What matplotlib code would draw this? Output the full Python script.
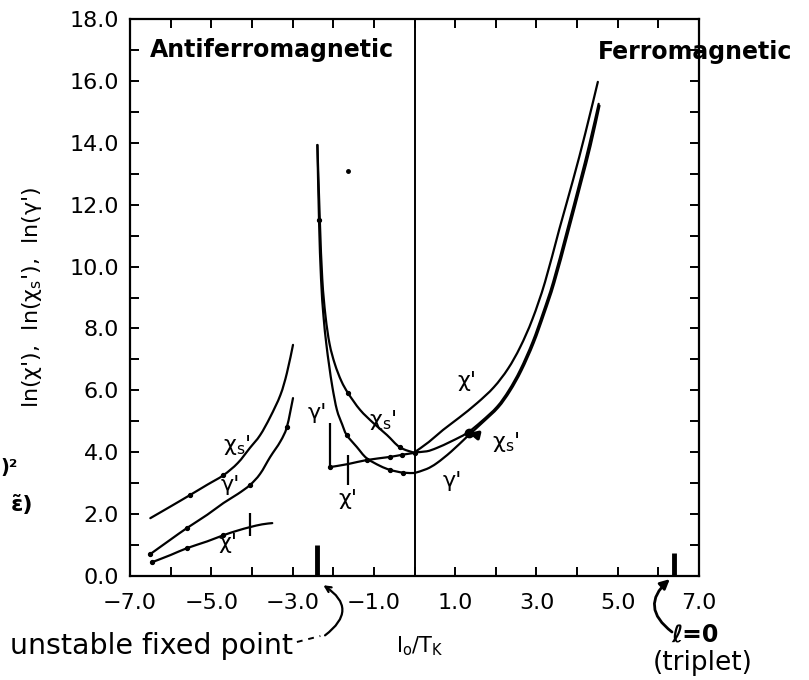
import matplotlib
matplotlib.use("Agg")
import matplotlib.pyplot as plt
from matplotlib.path import Path
from matplotlib.patches import PathPatch
from matplotlib.ticker import FixedLocator, NullFormatter, FuncFormatter

plt.rcParams["font.family"] = ["DejaVu Sans"]

# ---- antiferromagnetic side, low branch (I0/TK below the fixed point) ----
chis_af_x = [-6.5, -6.0, -5.52, -5.1, -4.7, -4.35, -4.05, -3.8, -3.55, -3.3, -3.14, -2.99]
chis_af_y = [1.87, 2.25, 2.62, 2.95, 3.26, 3.65, 4.14, 4.55, 5.14, 5.85, 6.56, 7.47]

gam_af_x = [-6.5, -6.0, -5.6, -5.1, -4.7, -4.35, -4.05, -3.8, -3.55, -3.3, -3.14, -2.99]
gam_af_y = [0.71, 1.18, 1.55, 1.98, 2.36, 2.65, 2.94, 3.3, 3.85, 4.35, 4.82, 5.75]

chi_af_x = [-6.45, -6.0, -5.6, -5.1, -4.7, -4.35, -4.05, -3.75, -3.5]
chi_af_y = [0.45, 0.68, 0.90, 1.12, 1.32, 1.47, 1.58, 1.67, 1.71]

# ---- antiferromagnetic side, branch between the fixed point and 0 ----
chis_mid_x = [-2.39, -2.33, -2.27, -2.19, -2.09, -1.96, -1.8, -1.63, -1.34, -1.01, -0.68, -0.36, 0.0]
chis_mid_y = [13.93, 11.5, 9.6, 8.4, 7.5, 6.85, 6.3, 5.9, 5.37, 4.94, 4.56, 4.16, 3.98]

gam_mid_x = [-2.39, -2.35, -2.3, -2.24, -2.17, -2.1, -2.02, -1.91, -1.78, -1.67, -1.42,
             -1.18, -0.85, -0.6, -0.28, 0.0]
gam_mid_y = [13.93, 11.5, 9.6, 8.4, 7.5, 6.8, 6.1, 5.37, 4.9, 4.56, 4.17,
             3.81, 3.56, 3.43, 3.34, 3.33]

chi_mid_x = [-2.08, -1.63, -1.17, -0.6, -0.3, 0.0]
chi_mid_y = [3.52, 3.62, 3.75, 3.85, 3.92, 3.98]

# ---- ferromagnetic side ----
chi_f_x = [0.0, 0.35, 0.7, 1.1, 1.54, 1.95, 2.3, 2.6, 2.9, 3.21, 3.56, 3.9, 4.2, 4.51]
chi_f_y = [4.0, 4.33, 4.72, 5.12, 5.59, 6.1, 6.7, 7.4, 8.3, 9.5, 11.2, 12.8, 14.3, 15.97]

chis_f_x = [0.0, 0.3, 0.55, 0.9, 1.29, 1.65, 2.03, 2.32, 2.6, 2.9, 3.16, 3.41, 3.75,
            4.07, 4.3, 4.53]
chis_f_y = [4.0, 4.03, 4.14, 4.35, 4.62, 5.0, 5.47, 6.0, 6.66, 7.55, 8.5, 9.5, 11.15,
            12.75, 13.95, 15.26]

gam_f_x = [0.0, 0.3, 0.55, 0.9, 1.29, 1.68, 2.06, 2.35, 2.63, 2.93, 3.19, 3.44, 3.78,
           4.1, 4.33, 4.55]
gam_f_y = [3.33, 3.46, 3.65, 4.02, 4.5, 4.97, 5.45, 5.98, 6.64, 7.53, 8.48, 9.48, 11.12,
           12.72, 13.9, 15.2]

# error bars: x position, lower and upper value
err_x = [-4.05, -2.08, -1.63]
err_lo = [1.29, 3.52, 2.94]
err_hi = [2.04, 4.94, 3.91]

# marked special couplings
fixed_point_x = -2.4
triplet_x = 6.38


def smooth_curve(ax, xs, ys, lw=1.6):
    """Draw a smooth (Catmull-Rom as cubic Bezier) curve through the points."""
    pts = list(zip(xs, ys))
    verts = [pts[0]]
    codes = [Path.MOVETO]
    n = len(pts)
    for i in range(n - 1):
        p0 = pts[i - 1] if i > 0 else pts[i]
        p1 = pts[i]
        p2 = pts[i + 1]
        p3 = pts[i + 2] if i + 2 < n else pts[i + 1]
        c1 = (p1[0] + (p2[0] - p0[0]) / 6.0, p1[1] + (p2[1] - p0[1]) / 6.0)
        c2 = (p2[0] - (p3[0] - p1[0]) / 6.0, p2[1] - (p3[1] - p1[1]) / 6.0)
        verts += [c1, c2, p2]
        codes += [Path.CURVE4] * 3
    ax.add_patch(PathPatch(Path(verts, codes), fill=False, edgecolor="black",
                           lw=lw, capstyle="round", joinstyle="round"))


def dots(ax, xs, ys, idx, ms=2.8):
    ax.plot([xs[i] for i in idx], [ys[i] for i in idx], "o", color="black",
            markersize=ms, linestyle="none")


fig = plt.figure(figsize=(8.09, 6.80), dpi=100)
ax = fig.add_axes([0.1607, 0.1529, 0.7034, 0.8191])

for cx, cy in [(chis_af_x, chis_af_y), (gam_af_x, gam_af_y), (chi_af_x, chi_af_y),
               (chis_mid_x, chis_mid_y), (gam_mid_x, gam_mid_y), (chi_mid_x, chi_mid_y),
               (chi_f_x, chi_f_y), (chis_f_x, chis_f_y), (gam_f_x, gam_f_y)]:
    smooth_curve(ax, cx, cy)

dots(ax, chis_af_x, chis_af_y, [2, 4])
dots(ax, gam_af_x, gam_af_y, [0, 2, 6, 10])
dots(ax, chi_af_x, chi_af_y, [0, 2, 4])
dots(ax, chis_mid_x, chis_mid_y, [7, 11, 12])
dots(ax, gam_mid_x, gam_mid_y, [1, 9, 13, 14])
dots(ax, chi_mid_x, chi_mid_y, [0, 2, 3, 4])

ax.vlines(err_x, err_lo, err_hi, color="black", lw=1.6)
ax.axvline(0.0, color="black", lw=1.4)

# thick strokes marking the unstable fixed point and the l=0 limit
ax.vlines([fixed_point_x], 0, 1.0, color="black", lw=3.5)
ax.vlines([triplet_x], 0, 0.74, color="black", lw=3.5)

# stray dot on the divergence
ax.plot([-1.63], [13.1], "o", color="black", markersize=2.5)

# curve labels
lab = dict(fontsize=16, ha="center", va="center", color="black")
ax.text(-4.37, 4.23, "χ$_\\mathregular{s}$'", **lab)
ax.text(-4.54, 2.94, "γ'", **lab)
ax.text(-4.58, 1.07, "χ'", **lab)
ax.text(-2.4, 5.27, "γ'", **lab)
ax.text(-0.77, 5.04, "χ$_\\mathregular{s}$'", **lab)
ax.text(-1.63, 2.49, "χ'", **lab)
ax.text(1.29, 6.3, "χ'", **lab)
ax.text(0.93, 3.07, "γ'", **lab)
ax.annotate("χ$_\\mathregular{s}$'", xy=(1.33, 4.62), xytext=(2.25, 4.33),
            fontsize=16, ha="center", va="center",
            arrowprops=dict(arrowstyle="-|>", color="black", lw=2.5,
                            mutation_scale=12, shrinkA=12, shrinkB=0))
ax.plot([1.33], [4.62], "o", color="black", markersize=6)

# axes
ax.set_xlim(-7.0, 7.0)
ax.set_ylim(0.0, 18.0)
ax.xaxis.set_major_locator(FixedLocator([-7, -5, -3, -1, 1, 3, 5, 7]))
ax.xaxis.set_minor_locator(FixedLocator([-6, -4, -2, 0, 2, 4, 6]))
ax.yaxis.set_major_locator(FixedLocator([0, 2, 4, 6, 8, 10, 12, 14, 16, 18]))
ax.yaxis.set_minor_locator(FixedLocator([1, 3, 5, 7, 9, 11, 13, 15, 17]))
fmt = FuncFormatter(lambda v, p: f"{v:.1f}".replace("-", "\u2212"))
ax.xaxis.set_major_formatter(fmt)
ax.yaxis.set_major_formatter(fmt)
ax.xaxis.set_minor_formatter(NullFormatter())
for side in ax.spines.values():
    side.set_linewidth(1.6)
ax.tick_params(which="both", direction="in", length=6.5, width=1.4,
               top=True, right=True, labelsize=16)
ax.tick_params(axis="x", which="both", pad=12)
ax.tick_params(axis="y", which="both", pad=8)

ax.set_ylabel("ln(χ'),  ln(χ$_\\mathregular{s}$'),  ln(γ')", fontsize=16)
ax.yaxis.set_label_coords(-0.151, 0.5)
ax.set_xlabel("I$_\\mathregular{o}$/T$_\\mathregular{K}$", fontsize=15)
ax.xaxis.set_label_coords(0.51, -0.105)

# regime labels
hand = dict(fontsize=17, fontweight="bold", color="black")
ax.text(0.035, 0.945, "Antiferromagnetic", transform=ax.transAxes, ha="left",
        va="center", **hand)
fig.text(695 / 809, 1 - 52 / 680, "Ferromagnetic", ha="center", va="center", **hand)

# notes below the axis
fig.text(0.362, 1 - 646 / 680, "unstable fixed point", ha="right", va="center",
         fontsize=20.5, color="black")
ax.annotate("", xy=(-2.3, -0.25), xycoords="data",
            xytext=(0.399, 1 - 637 / 680), textcoords="figure fraction",
            annotation_clip=False,
            arrowprops=dict(arrowstyle="->", color="black", lw=1.6,
                            connectionstyle="arc3,rad=0.75"))
fig.lines.append(plt.Line2D([0.367, 0.396], [1 - 642 / 680, 1 - 636 / 680],
                            transform=fig.transFigure,
                            color="black", lw=1.4, ls=(0, (3, 3))))

fig.text(695 / 809, 1 - 635 / 680, "ℓ=0", ha="center", va="center", fontsize=17,
         fontweight="bold")
fig.text(703 / 809, 1 - 663 / 680, "(triplet)", ha="center", va="center", fontsize=19)
ax.annotate("", xy=(6.28, -0.1), xycoords="data",
            xytext=(672 / 809, 1 - 632 / 680), textcoords="figure fraction",
            annotation_clip=False,
            arrowprops=dict(arrowstyle="-|>", color="black", lw=2.0,
                            mutation_scale=14, shrinkA=0, shrinkB=0,
                            connectionstyle="arc3,rad=-0.6"))

# cut-off margin notes
fig.text(18 / 809, 1 - 468 / 680, ")²", ha="right", va="center", fontsize=14,
         fontweight="bold")
fig.text(33 / 809, 1 - 505 / 680, "ε̃)", ha="right", va="center", fontsize=16,
         fontweight="bold")

fig.savefig("out.png", dpi=100)
